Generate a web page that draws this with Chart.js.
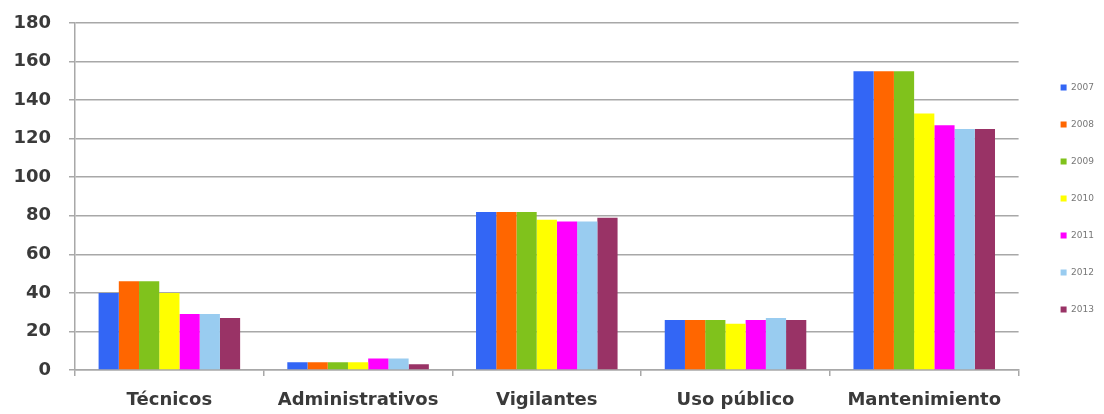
<!DOCTYPE html>
<html>
<head>
<meta charset="utf-8">
<script src="https://cdn.jsdelivr.net/npm/chart.js@4"></script>
<style>
    html, body { margin: 0; padding: 0; background: #fff; }
    #wrap { width: 1104px; height: 414px; }
</style>
</head>
<body>
<div id="wrap"><canvas id="chart"></canvas></div>
<script>
// Categories and series (personal por año)
const categories = ["Técnicos", "Administrativos", "Vigilantes", "Uso público", "Mantenimiento"];
const years = ["2007", "2008", "2009", "2010", "2011", "2012", "2013"];

const v2007 = [40, 4, 82, 26, 155];
const v2008 = [46, 4, 82, 26, 155];
const v2009 = [46, 4, 82, 26, 155];
const v2010 = [40, 4, 78, 24, 133];
const v2011 = [29, 6, 77, 26, 127];
const v2012 = [29, 6, 77, 27, 125];
const v2013 = [27, 3, 79, 26, 125];

const yTicks = [0, 20, 40, 60, 80, 100, 120, 140, 160, 180];

const seriesValues = [v2007, v2008, v2009, v2010, v2011, v2012, v2013];
const colors = ["#3366f5", "#ff6600", "#80c21c", "#ffff00", "#ff00ff", "#99ccf0", "#993366"];

const gridColor = "#a8a8a8";
const textColor = "#3a3a3a";

const datasets = years.map((y, i) => ({
    label: y,
    data: seriesValues[i],
    backgroundColor: colors[i],
    borderWidth: 0,
    categoryPercentage: 0.75,
    barPercentage: 1.0
}));

// empty axes only used to reserve space around the plot
const spacer = (size, horizontal) => ({
    display: true,
    afterFit: scale => { if (horizontal) scale.height = size; else scale.width = size; },
    grid: { display: false, drawTicks: false },
    border: { display: false },
    ticks: { display: false }
});

new Chart(document.getElementById("chart"), {
    type: "bar",
    data: { labels: categories, datasets: datasets },
    options: {
        responsive: true,
        maintainAspectRatio: false,
        animation: false,
        layout: { padding: 0 },
        scales: {
            x: {
                afterFit: scale => { scale.height = 44; },
                grid: {
                    display: true,
                    drawOnChartArea: false,
                    offset: true,
                    color: gridColor,
                    lineWidth: 1.5,
                    tickLength: 6
                },
                border: { color: gridColor, width: 1.5 },
                ticks: {
                    color: textColor,
                    padding: 14,
                    font: { family: "DejaVu Sans", size: 18, weight: "bold" }
                }
            },
            y: {
                min: 0,
                max: 180,
                afterFit: scale => {
                    scale.width = 75;
                    scale.paddingTop = 0;
                    scale.paddingBottom = 0;
                },
                afterBuildTicks: scale => {
                    scale.ticks = yTicks.map(v => ({ value: v }));
                },
                grid: {
                    color: gridColor,
                    lineWidth: 1.5,
                    tickLength: 6
                },
                border: { color: gridColor, width: 1.5 },
                ticks: {
                    color: textColor,
                    padding: 18,
                    font: { family: "DejaVu Sans", size: 18, weight: "bold" }
                }
            },
            xTop: Object.assign({ position: "top", type: "category" }, spacer(23, true)),
            yRight: Object.assign({ position: "right", type: "linear" }, spacer(14, false))
        },
        plugins: {
            legend: {
                position: "right",
                align: "start",
                title: {
                    display: true,
                    text: " ",
                    padding: { top: 43, bottom: 0 },
                    font: { size: 10, lineHeight: 1.2 }
                },
                labels: {
                    boxWidth: 6,
                    boxHeight: 6,
                    padding: 28,
                    color: "#777",
                    font: { family: "DejaVu Sans", size: 9 }
                }
            },
            tooltip: { enabled: false }
        }
    }
});
</script>
</body>
</html>
